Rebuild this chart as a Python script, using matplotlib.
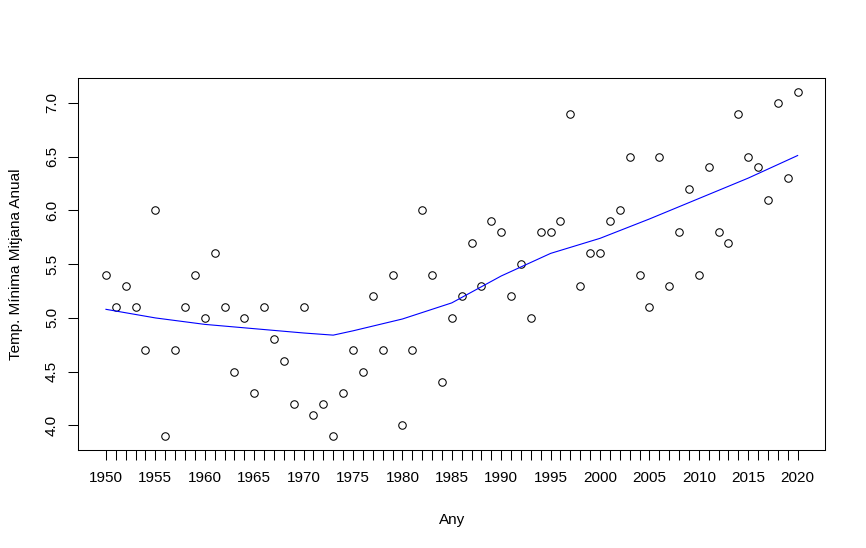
import numpy as np
import matplotlib.pyplot as plt

plt.rcParams['font.family'] = ['Liberation Sans', 'DejaVu Sans']

# Temperatura mínima mitjana anual
anys = list(range(1950, 2021))
temp = [5.4, 5.1, 5.3, 5.1, 4.7, 6.0, 3.9, 4.7, 5.1, 5.4,
        5.0, 5.6, 5.1, 4.5, 5.0, 4.3, 5.1, 4.8, 4.6, 4.2,
        5.1, 4.1, 4.2, 3.9, 4.3, 4.7, 4.5, 5.2, 4.7, 5.4,
        4.0, 4.7, 6.0, 5.4, 4.4, 5.0, 5.2, 5.7, 5.3, 5.9,
        5.8, 5.2, 5.5, 5.0, 5.8, 5.8, 5.9, 6.9, 5.3, 5.6,
        5.6, 5.9, 6.0, 6.5, 5.4, 5.1, 6.5, 5.3, 5.8, 6.2,
        5.4, 6.4, 5.8, 5.7, 6.9, 6.5, 6.4, 6.1, 7.0, 6.3,
        7.1]

# corba suavitzada (llegida del gràfic)
anys_suau = [1950, 1955, 1960, 1965, 1970, 1973, 1975, 1980, 1985,
             1990, 1995, 2000, 2005, 2010, 2015, 2020]
temp_suau = [5.08, 5.00, 4.94, 4.90, 4.86, 4.84, 4.88, 4.99, 5.14,
             5.39, 5.60, 5.74, 5.92, 6.11, 6.30, 6.51]

fig = plt.figure(figsize=(8.66, 5.48), dpi=100)
ax = fig.add_axes([78.3/866, 1-450/548, (825.3-78.3)/866, (450-78.3)/548])

ax.plot(anys, temp, 'o', mfc='none', mec='black', ms=5.4, mew=0.75)
ax.plot(anys_suau, temp_suau, color='blue', lw=0.8)

ax.set_xlim(1947.2, 2022.8)
ax.set_ylim(3.772, 7.228)

ax.set_xticks(anys)
ax.set_xticklabels([str(a) if a % 5 == 0 else '' for a in anys])
ax.set_yticks(np.arange(4.0, 7.01, 0.5))
ax.set_yticklabels([f"{v:.1f}" for v in np.arange(4.0, 7.01, 0.5)],
                   rotation=90, va='center')

ax.tick_params(axis='both', direction='out', length=7, width=0.75,
               labelsize=11, colors='black')
ax.tick_params(axis='x', pad=8)
ax.tick_params(axis='y', pad=7)
for s in ax.spines.values():
    s.set_linewidth(0.75)

ax.set_xlabel('Any', fontsize=11, labelpad=20)
ax.set_ylabel('Temp. Mínima Mitjana Anual', fontsize=11, labelpad=16)

fig.savefig('out.png', dpi=100)
